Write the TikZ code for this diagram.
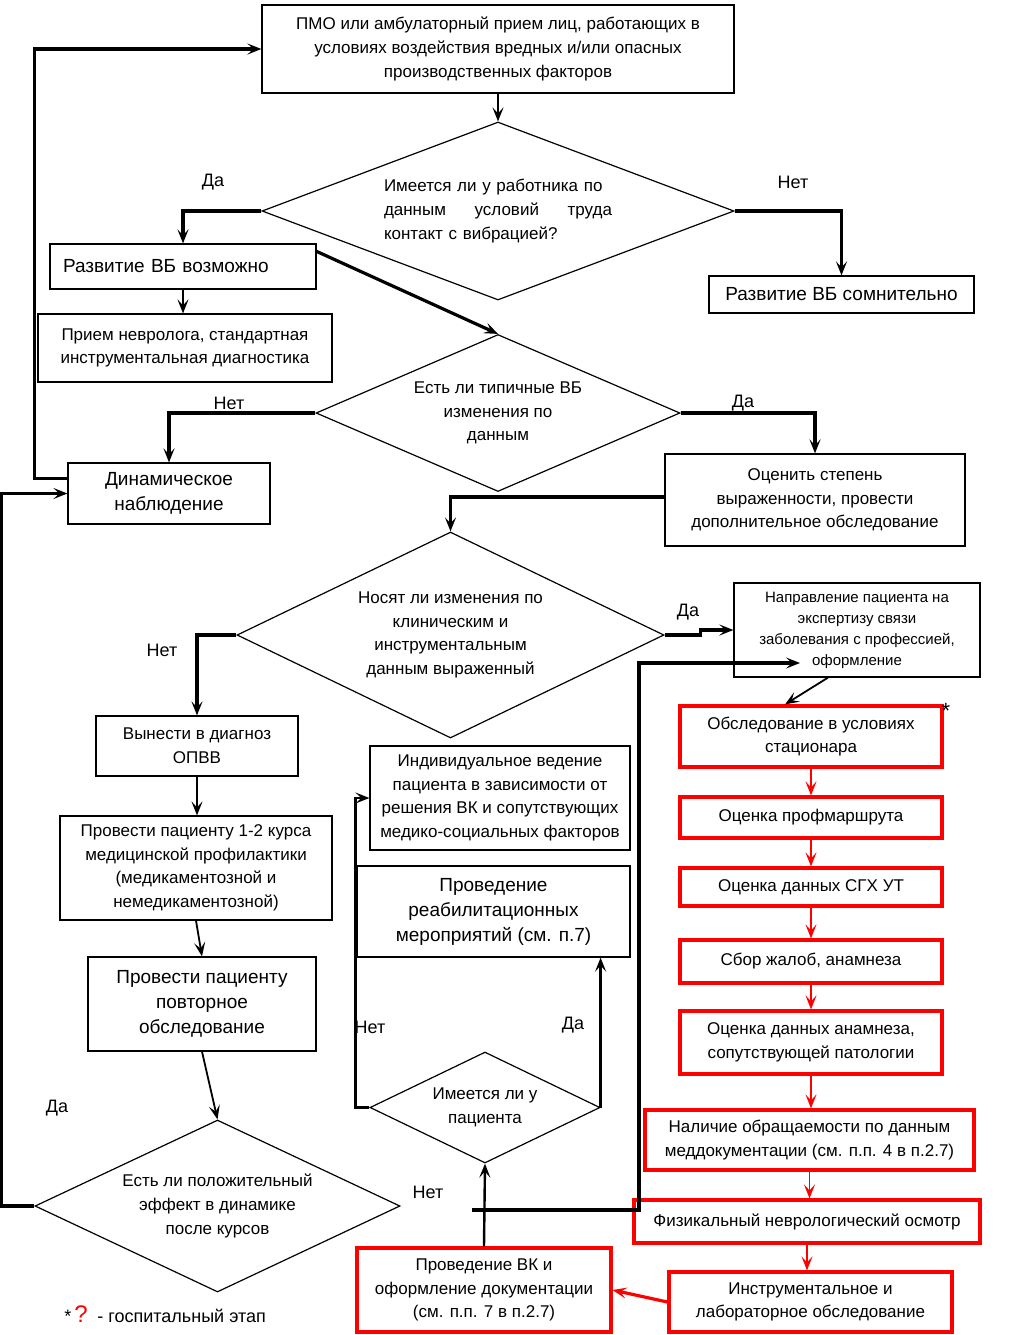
\documentclass[tikz,border=0pt]{standalone}
\usepackage{fontspec}
\setmainfont{Liberation Sans}
\usepackage{xcolor}
\usetikzlibrary{shapes.geometric}
\usetikzlibrary{arrows.meta}
\usetikzlibrary{calc}
\tikzset{
  box/.style={draw, line width=0.6pt, align=center, inner sep=1pt,
    font=\fontsize{8.5}{11.8}\selectfont},
  bigbox/.style={box, font=\fontsize{9.5}{12.5}\selectfont},
  smallbox/.style={box, font=\fontsize{7.5}{10.5}\selectfont},
  redbox/.style={box, draw=red, line width=1.6pt},
  ask/.style={diamond, draw, line width=0.6pt, inner sep=0pt, align=center,
    font=\fontsize{8.5}{11.8}\selectfont},
  answer/.style={font=\fontsize{9}{11}\selectfont, inner sep=0pt},
  flow/.style={line width=1.6pt, -{Stealth[length=7pt,width=5.5pt,inset=3pt]}},
  thinflow/.style={line width=0.9pt, -{Stealth[length=7pt,width=5.5pt,inset=3pt]}},
  redflow/.style={red, line width=0.9pt, -{Stealth[length=7pt,width=5.5pt,inset=3pt]}},
}
\begin{document}
\begin{tikzpicture}[x=0.5pt,y=-0.5pt]

%%%%%%%%%%%%%%%%%%%%%%%%%%%%%%%%%%%%%%%%%%%%%%%%%%%%%%%%%%%%%% Setup
\coordinate (C) at (0, 0);
% page frame, same proportions as the scan
\useasboundingbox ($(C)$) rectangle ($(C)+(1014,1335)$);

%%%%%%%%%%%%%%%%%%%%%%%%%%%%%%%%%%%%%%%%%%%%%%%%%%%%%%%%%%%%%% Upper part
\node[box, minimum width=236pt, minimum height=44pt] (pmo) at ($(C)+(498,49)$)
  {ПМО или амбулаторный прием лиц, работающих в\\ условиях воздействия вредных и/или опасных\\ производственных факторов};
\node[ask, shape aspect=2.65, minimum width=236pt, minimum height=89pt, text width=114pt, align=left] (q1) at ($(C)+(498,211)$)
  {Имеется ли у работника по\\ данным\hfill условий\hfill труда\\ контакт с вибрацией?};
\node[bigbox, minimum height=22.5pt, text width=120pt, inner sep=6.5pt, align=left] (vbyes) at ($(C)+(183,266.5)$)
  {Развитие ВБ возможно};
\node[bigbox, minimum width=132.5pt, minimum height=18.5pt] (vbno) at ($(C)+(841.5,294.5)$)
  {Развитие ВБ сомнительно};
\node[box, minimum width=147pt, minimum height=34pt] (nevro) at ($(C)+(185,348)$)
  {Прием невролога, стандартная\\ инструментальная диагностика};
\node[ask, shape aspect=2.32, minimum width=182pt, minimum height=78.5pt] (q2) at ($(C)+(498,413)$)
  {Есть ли типичные ВБ\\ изменения по\\ данным};
\node[bigbox, minimum width=101pt, minimum height=30.5pt] (dyn) at ($(C)+(169,493.5)$)
  {Динамическое\\ наблюдение};
\node[box, minimum width=150pt, minimum height=46pt] (grade) at ($(C)+(815,500)$)
  {Оценить степень\\ выраженности, провести\\ дополнительное обследование};

%%%%%%%%%%%%%%%%%%%%%%%%%%%%%%%%%%%%%%%%%%%%%%%%%%%%%%%%%%%%%% Middle part
\node[ask, shape aspect=2.07, minimum width=213.5pt, minimum height=103pt] (q3) at ($(C)+(450.5,635)$)
  {Носят ли изменения по\\ клиническим и\\ инструментальным\\ данным выраженный};
\node[smallbox, minimum width=123pt, minimum height=47pt] (expert) at ($(C)+(857,630)$)
  {Направление пациента на\\ экспертизу связи\\ заболевания с профессией,\\ оформление};
\node[box, minimum width=101pt, minimum height=30pt] (opvv) at ($(C)+(197,746)$)
  {Вынести в диагноз\\ ОПВВ};
\node[box, minimum width=136pt, minimum height=52pt] (prof) at ($(C)+(196,868)$)
  {Провести пациенту 1-2 курса\\ медицинской профилактики\\ (медикаментозной и\\ немедикаментозной)};
\node[bigbox, minimum width=114pt, minimum height=47pt] (repeat) at ($(C)+(202,1004)$)
  {Провести пациенту\\ повторное\\ обследование};
\node[ask, shape aspect=2.12, minimum width=182.5pt, minimum height=86pt] (q5) at ($(C)+(217.5,1206)$)
  {Есть ли положительный\\ эффект в динамике\\ после курсов};
\node[box, minimum width=130pt, minimum height=52pt] (indiv) at ($(C)+(500,798)$)
  {Индивидуальное ведение\\ пациента в зависимости от\\ решения ВК и сопутствующих\\ медико-социальных факторов};
\node[bigbox, minimum width=136.5pt, minimum height=45.5pt] (rehab) at ($(C)+(493.5,911.5)$)
  {Проведение\\ реабилитационных\\ мероприятий (см. п.7)};
\node[ask, shape aspect=2.07, minimum width=115pt, minimum height=55.5pt] (q4) at ($(C)+(485,1107.5)$)
  {Имеется ли у\\ пациента};

%%%%%%%%%%%%%%%%%%%%%%%%%%%%%%%%%%%%%%%%%%%%%%%%%%%%%%%%%%%%%% Hospital stage (red)
\node[redbox, minimum width=131pt, minimum height=30.5pt] (stac) at ($(C)+(811,736.5)$)
  {Обследование в условиях\\ стационара};
\node[redbox, minimum width=131pt, minimum height=20.5pt] (route) at ($(C)+(811,817.5)$)
  {Оценка профмаршрута};
\node[redbox, minimum width=131pt, minimum height=19pt] (sgh) at ($(C)+(811,887)$)
  {Оценка данных СГХ УТ};
\node[redbox, minimum width=131pt, minimum height=21.5pt] (compl) at ($(C)+(811,961.5)$)
  {Сбор жалоб, анамнеза};
\node[redbox, minimum width=131pt, minimum height=31.5pt] (anam) at ($(C)+(811,1042.5)$)
  {Оценка данных анамнеза,\\ сопутствующей патологии};
\node[redbox, minimum width=164.5pt, minimum height=30pt] (docs) at ($(C)+(809.5,1140)$)
  {Наличие обращаемости по данным\\ меддокументации (см. п.п. 4 в п.2.7)};
\node[redbox, minimum width=173pt, minimum height=21.5pt] (exam) at ($(C)+(807,1221.5)$)
  {Физикальный неврологический осмотр};
\node[redbox, minimum width=141.5pt, minimum height=30pt] (lab) at ($(C)+(810.5,1302)$)
  {Инструментальное и\\ лабораторное обследование};
\node[redbox, minimum width=127pt, minimum height=42pt] (vk) at ($(C)+(484,1290)$)
  {Проведение ВК и\\ оформление документации\\ (см. п.п. 7 в п.2.7)};
\node[answer, font=\fontsize{11}{11}\selectfont] (star) at ($(C)+(946,711)$) {*};

%%%%%%%%%%%%%%%%%%%%%%%%%%%%%%%%%%%%%%%%%%%%%%%%%%%%%%%%%%%%%% Answers
\node[answer] (yes1) at ($(C)+(213,182)$) {Да};
\node[answer] (no1) at ($(C)+(793,182)$) {Нет};
\node[answer] (no2) at ($(C)+(229,403)$) {Нет};
\node[answer] (yes2) at ($(C)+(743,403)$) {Да};
\node[answer] (no3) at ($(C)+(162,650)$) {Нет};
\node[answer] (yes3) at ($(C)+(688,612)$) {Да};
\node[answer] (no4) at ($(C)+(370,1027)$) {Нет};
\node[answer] (yes4) at ($(C)+(573,1025)$) {Да};
\node[answer] (yes5) at ($(C)+(57,1108)$) {Да};
\node[answer] (no5) at ($(C)+(428,1192)$) {Нет};

% legend
\node[answer, anchor=west] (legend) at ($(C)+(64,1314)$)
  {*\,\textcolor{red}{\fontsize{12}{12}\selectfont ?}\, - госпитальный этап};

%%%%%%%%%%%%%%%%%%%%%%%%%%%%%%%%%%%%%%%%%%%%%%%%%%%%%%%%%%%%%% Connectors
\draw[thinflow] (pmo) -- (q1);
\draw[flow] (q1.west) -| (vbyes.north);
\draw[flow] (q1.east) -| (vbno.north);
\draw[thinflow] (vbyes.south) -- (vbyes.south |- nevro.north);
\draw[flow] ($(vbyes.north east)+(0,8)$) -- (q2.north);
\draw[flow] (q2.west) -| (dyn.north);
\draw[flow] (q2.east) -| (grade.north);
\draw[flow] ($(dyn.north west)+(0,16)$) -- ++(-33,0) |- (pmo.west);
\draw[flow] ($(grade.west)+(0,-3)$) -| (q3.north);
\draw[flow] (q3.west) -| (opvv.north);
\draw[flow] (q3.east) -- ++(36,0) |- (expert.west);
\draw[thinflow] ($(expert.south)+(-29,0)$) -- ($(stac.north)+(-26,0)$);
\draw[thinflow] (opvv.south) -- (opvv.south |- prof.north);
\draw[thinflow] (prof.south) -- (repeat.north);
\draw[thinflow] (repeat.south) -- (q5.north);
\draw[flow] (q5.west) -- ++(-33,0) |- (dyn.west);

% red chain of the hospital stage
\foreach \a/\b in {stac/route,route/sgh,sgh/compl,compl/anam,anam/docs,docs/exam,exam/lab}
  \draw[redflow] (\a.south) -- (\a.south |- \b.north);
\draw[redflow, line width=1.6pt] (lab.west) -- (vk.east);

\draw[thinflow, line width=1.2pt] (vk.north) -- (q4.south);
\draw[flow, line width=1.3pt] (q4.west) -- ++(-14,0) |- (indiv.west);
\draw[flow, line width=1.3pt] (q4.east) -- (q4.east |- rehab.south);

% "Нет" back to the expert referral
\coordinate (netfrom) at ($(C)+(472,1210)$);
\coordinate (netto) at ($(C)+(800,663)$);
\draw[flow] (netfrom) -- ++(167,0) |- (netto);

\end{tikzpicture}
\end{document}
